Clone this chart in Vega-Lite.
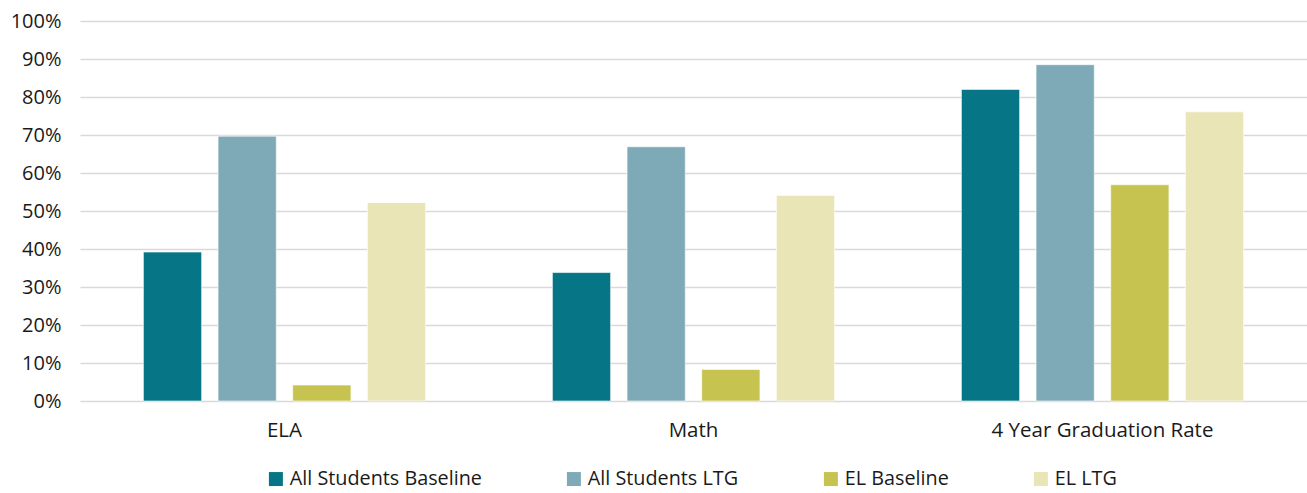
{
  "$schema": "https://vega.github.io/schema/vega-lite/v6.json",
  "autosize": "none",
  "padding": {"left": 80, "top": 21, "right": 0, "bottom": 92},
  "width": 1227,
  "height": 380,
  "background": "white",
  "data": {
    "values": [
      {"category": "ELA", "series": "All Students Baseline", "value": 0.392},
      {"category": "ELA", "series": "All Students LTG", "value": 0.697},
      {"category": "ELA", "series": "EL Baseline", "value": 0.042},
      {"category": "ELA", "series": "EL LTG", "value": 0.522},
      {"category": "Math", "series": "All Students Baseline", "value": 0.338},
      {"category": "Math", "series": "All Students LTG", "value": 0.669},
      {"category": "Math", "series": "EL Baseline", "value": 0.083},
      {"category": "Math", "series": "EL LTG", "value": 0.541},
      {"category": "4 Year Graduation Rate", "series": "All Students Baseline", "value": 0.82},
      {"category": "4 Year Graduation Rate", "series": "All Students LTG", "value": 0.885},
      {"category": "4 Year Graduation Rate", "series": "EL Baseline", "value": 0.569},
      {"category": "4 Year Graduation Rate", "series": "EL LTG", "value": 0.761}
    ]
  },
  "mark": {"type": "bar", "stroke": "white", "strokeWidth": 0.6},
  "encoding": {
    "x": {
      "field": "category",
      "type": "nominal",
      "sort": ["ELA", "Math", "4 Year Graduation Rate"],
      "scale": {"paddingInner": 0.31, "paddingOuter": 0.155},
      "axis": {
        "title": null,
        "labelAngle": 0,
        "domain": false,
        "ticks": false,
        "labelPadding": 19,
        "labelLimit": 0,
        "labelFont": "Open Sans",
        "labelFontSize": 20.5,
        "labelColor": "#1a1a1a"
      }
    },
    "xOffset": {
      "field": "series",
      "type": "nominal",
      "sort": ["All Students Baseline", "All Students LTG", "EL Baseline", "EL LTG"],
      "scale": {"paddingInner": 0.22, "paddingOuter": 0}
    },
    "y": {
      "field": "value",
      "type": "quantitative",
      "scale": {"domain": [0, 1], "nice": false},
      "axis": {
        "title": null,
        "format": ".0%",
        "values": [0, 0.1, 0.2, 0.3, 0.4, 0.5, 0.6, 0.7, 0.8, 0.9, 1],
        "domain": false,
        "ticks": false,
        "labelPadding": 19,
        "labelFont": "Open Sans",
        "labelFontSize": 20,
        "labelColor": "#1a1a1a",
        "gridColor": "#d9d9d9",
        "gridWidth": 1.5
      }
    },
    "color": {
      "field": "series",
      "type": "nominal",
      "sort": ["All Students Baseline", "All Students LTG", "EL Baseline", "EL LTG"],
      "scale": {
        "domain": ["All Students Baseline", "All Students LTG", "EL Baseline", "EL LTG"],
        "range": ["#067686", "#7eaab7", "#c6c350", "#e9e5b7"]
      },
      "legend": {
        "title": null,
        "orient": "none",
        "direction": "horizontal",
        "legendX": 186,
        "legendY": 448,
        "symbolType": "square",
        "symbolSize": 196,
        "symbolStrokeWidth": 0,
        "labelFont": "Open Sans",
        "labelFontSize": 19.8,
        "labelLimit": 0,
        "labelColor": "#1a1a1a",
        "labelOffset": 4,
        "columnPadding": 82
      }
    }
  },
  "config": {"view": {"stroke": null}}
}
